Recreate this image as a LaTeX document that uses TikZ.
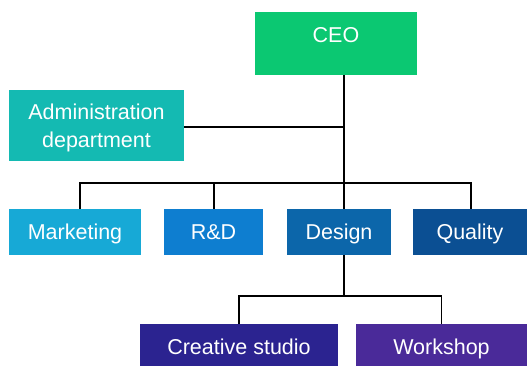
\documentclass[tikz,border=0pt]{standalone}
\usepackage{fontspec}
\setmainfont{Liberation Sans}
\definecolor{cceo}{HTML}{0BC872}
\definecolor{cadm}{HTML}{14BAB2}
\definecolor{cmkt}{HTML}{17A9D6}
\definecolor{crd}{HTML}{0E7ED0}
\definecolor{cdes}{HTML}{0C66AA}
\definecolor{cqua}{HTML}{0B4F93}
\definecolor{ccre}{HTML}{2B2390}
\definecolor{cwor}{HTML}{4A2A99}
\begin{document}
\begin{tikzpicture}[x=1pt,y=-1pt,
  box/.style={rectangle, draw=none, text=white, inner sep=0pt, align=center,
    text height=15.5pt, text depth=0pt,
    font=\fontsize{21.5}{28}\selectfont},
  txt/.style={text=white, inner sep=0pt, align=center,
    font=\fontsize{21.5}{28.5}\selectfont},
  conn/.style={draw=black, line width=1.8pt}]
\useasboundingbox (0,0) rectangle (529,365);
\fill[white] (0,0) rectangle (529,365);
% boxes
\node[box, fill=cceo, minimum width=162pt, minimum height=63pt] (ceo) at (336,43.5) {};
\node[box] (ceot) at (336,35) {CEO};
\node[box, fill=cadm, minimum width=175pt, minimum height=71pt] (adm) at (96.5,125.5) {};
\node[txt] (admt) at (96.5,128) {Administration\\department};
\node[box, fill=cmkt, minimum width=132pt, minimum height=46pt] (mkt) at (75,232) {Marketing};
\node[box, fill=crd, minimum width=99pt, minimum height=46pt] (rd) at (213.5,232) {R\&D};
\node[box, fill=cdes, minimum width=104pt, minimum height=46pt] (des) at (339,232) {Design};
\node[box, fill=cqua, minimum width=114pt, minimum height=46pt] (qua) at (470,232) {Quality};
\node[box, fill=ccre, minimum width=198pt, minimum height=46pt] (cre) at (239,347) {Creative studio};
\node[box, fill=cwor, minimum width=171pt, minimum height=46pt] (wor) at (441.5,347) {Workshop};
% coordinates
\coordinate (spine) at (344,183);
\coordinate (admj) at (344,127);
\coordinate (sub) at (344,296);
% connectors
\draw[conn] (ceo.south -| spine) -- (spine);
\draw[conn] (adm.east |- admj) -- (admj);
\draw[conn] (mkt.north -| 80,0) -- (80,183) -- (471,183) -- (qua.north -| 471,0);
\draw[conn] (rd.north -| 214,0) -- (214,183);
\draw[conn] (des.north -| spine) -- (spine);
\draw[conn] (des.south -| sub) -- (sub);
\draw[conn] (cre.north) -- (cre.north |- sub) -- (wor.north |- sub) -- (wor.north);
\end{tikzpicture}
\end{document}
